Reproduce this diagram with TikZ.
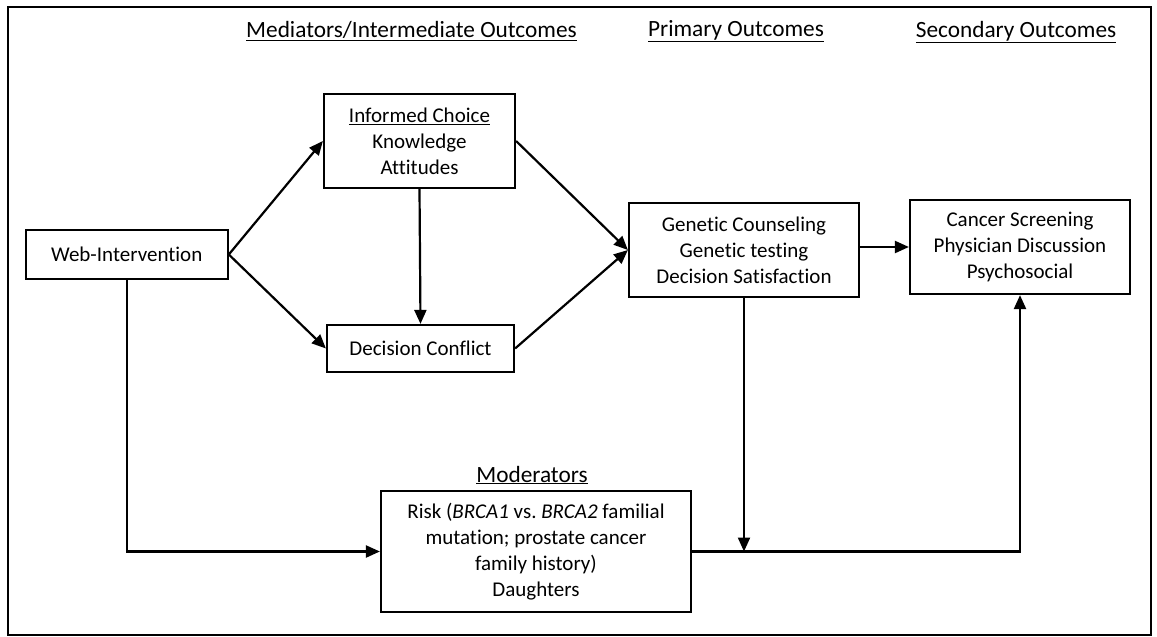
\documentclass[tikz,border=0pt]{standalone}
\usepackage{fontspec}
\setmainfont{Carlito}[Ligatures=NoCommon]
\usetikzlibrary{arrows.meta,calc}
\newcommand{\ul}[1]{\underline{#1}}
\tikzset{
  box/.style={draw, line width=2.2pt, align=center, inner sep=0pt, font=\fontsize{21}{26}\selectfont},
  head/.style={align=center, inner sep=0pt, font=\fontsize{23.3}{28}\selectfont},
  arr/.style={line width=2.2pt, -{Triangle[length=14pt,width=12pt]}}
}
\begin{document}
\begin{tikzpicture}[x=1pt,y=-1pt]
\useasboundingbox (0,0) rectangle (1157,637);
\draw[line width=2.2pt] (8,7) rectangle (1151,635);
% headings
\node[head] (h1) at (411.5,31) {\ul{Mediators/Intermediate Outcomes}};
\node[head] (h2) at (736,31) {\ul{Primary Outcomes}};
\node[head] (h3) at (1016,32) {\ul{Secondary Outcomes}};
\node[head] (h4) at (532,475) {\ul{Moderators}};
% boxes
\node[box, minimum width=202pt, minimum height=49pt] (web) at (126.7,254.5) {Web-Intervention};
\node[box, minimum width=191pt, minimum height=94pt] (inf) at (419.5,141) {\ul{Informed Choice}\\Knowledge\\Attitudes};
\node[box, minimum width=187pt, minimum height=47pt] (dec) at (420.5,348.5) {Decision Conflict};
\node[box, minimum width=230pt, minimum height=94pt] (gen) at (744,250) {Genetic Counseling\\Genetic testing\\Decision Satisfaction};
\node[box, minimum width=220pt, minimum height=94pt] (sec) at (1020,247) {Cancer Screening\\Physician Discussion\\Psychosocial};
\node[box, minimum width=310pt, minimum height=121pt] (risk) at (536,551.5) {Risk (\textit{BRCA1} vs.\ \textit{BRCA2} familial\\mutation; prostate cancer\\family history)\\Daughters};
% connectors
\draw[arr] (web.east) -- (inf.west);
\draw[arr] (web.east) -- (dec.west);
\draw[arr] (inf.south) -- (dec.north);
\draw[arr] (inf.east) -- (gen.west);
\draw[arr] (dec.east) -- (gen.west);
\draw[arr] (gen.east |- sec.west) -- (sec.west);
\draw[arr] (web.south) |- (risk.west);
\draw[arr] (risk.east) -| (sec.south);
\coordinate (mj) at (gen.south |- risk.east);
\draw[arr] (gen.south) -- (mj);
\end{tikzpicture}
\end{document}
